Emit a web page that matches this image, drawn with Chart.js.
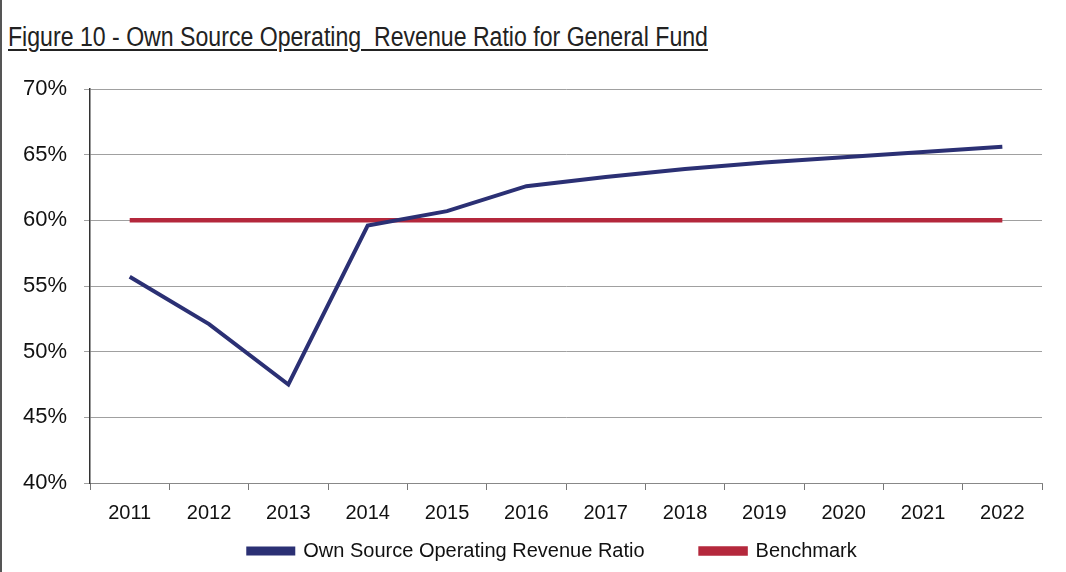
<!DOCTYPE html>
<html>
<head>
<meta charset="utf-8">
<script src="https://cdn.jsdelivr.net/npm/chart.js@4"></script>
<style>
  html, body { margin: 0; padding: 0; background: #fff; }
  #wrap { position: relative; width: 1066px; height: 572px; border-left: 2px solid #555; box-sizing: border-box; }
  #title {
    position: absolute; left: 6px; top: 22px;
    font-family: "Liberation Sans Narrow", "Arial Narrow", "Liberation Sans", Arial, sans-serif;
    font-size: 27px; color: #222; text-decoration: underline; text-underline-offset: 3px;
    white-space: nowrap; transform-origin: 0 0;
  }
  canvas { position: absolute; left: 0; top: 0; }
</style>
</head>
<body>
<div id="wrap">
  <div id="title">Figure 10 - Own Source Operating&nbsp; Revenue Ratio for General Fund</div>
  <canvas id="lineChart" width="1064" height="572"></canvas>
</div>
<script>
// values
const years = ['2011', '2012', '2013', '2014', '2015', '2016', '2017', '2018', '2019', '2020', '2021', '2022'];
const ownSourceRatio = [55.7, 52.1, 47.5, 59.6, 60.7, 62.6, 63.3, 63.9, 64.4, 64.8, 65.2, 65.6];
const benchmark = [60, 60, 60, 60, 60, 60, 60, 60, 60, 60, 60, 60];
const yTicks = [40, 45, 50, 55, 60, 65, 70];

const FONT = '"Liberation Sans Narrow", "Arial Narrow", "Liberation Sans", Arial, sans-serif';
const BLUE = '#2b3074';
const RED = '#b4283c';
const LEGEND_GAP = 56;

// legend items sit far apart in the original but close under the axis labels,
// so shrink the legend box, nudge the row right and lift it after layout
const legendLayout = {
    id: 'legendLayout',
    afterInit(chart) {
        const legend = chart.legend;
        const fit = legend.fit;
        legend.fit = function () {
            fit.call(this);
            this.height = 36;
            this.lineWidths[0] -= 57;
        };
    },
    afterLayout(chart) {
        // legend clips to its own box, so stretch the box down to the bottom
        const legend = chart.legend;
        legend.top = 551 - 10 - LEGEND_GAP;
        legend.bottom = chart.height;
        legend.height = legend.bottom - legend.top;
    }
};

window.onload = function () {
    // squeeze the title so it spans the same width as the scanned one
    const title = document.getElementById('title');
    title.style.transform = 'scaleX(' + (700 / title.offsetWidth) + ')';

    const ctx = document.getElementById('lineChart').getContext('2d');

    new Chart(ctx, {
        type: 'line',
        data: {
            labels: years,
            datasets: [{
                label: 'Own Source Operating Revenue Ratio',
                data: ownSourceRatio,
                borderColor: BLUE,
                backgroundColor: BLUE,
                borderWidth: 4,
                pointRadius: 0,
                tension: 0
            }, {
                label: 'Benchmark',
                data: benchmark,
                borderColor: RED,
                backgroundColor: RED,
                borderWidth: 4.5,
                pointRadius: 0,
                tension: 0
            }]
        },
        options: {
            responsive: false,
            animation: false,
            layout: { padding: { top: 89, left: 4, right: 24, bottom: 0 } },
            plugins: {
                legend: {
                    position: 'bottom',
                    labels: {
                        color: '#111',
                        font: { family: FONT, size: 20 },
                        boxWidth: 45,
                        boxHeight: 5,
                        padding: LEGEND_GAP
                    }
                },
                tooltip: { enabled: false }
            },
            scales: {
                x: {
                    offset: true,
                    grid: {
                        offset: true,
                        drawOnChartArea: false,
                        drawTicks: true,
                        tickLength: 7,
                        color: '#777'
                    },
                    border: { color: '#888', width: 1 },
                    ticks: {
                        color: '#111',
                        font: { family: FONT, size: 20 },
                        padding: 11,
                        maxRotation: 0
                    }
                },
                y: {
                    min: 40,
                    max: 70,
                    afterBuildTicks: function (axis) {
                        axis.ticks = yTicks.map(v => ({ value: v }));
                    },
                    grid: {
                        color: '#a0a0a0',
                        lineWidth: 1,
                        tickLength: 6
                    },
                    border: { color: '#333', width: 1.5 },
                    ticks: {
                        color: '#111',
                        font: { family: FONT, size: 22 },
                        padding: 17,
                        callback: v => v + '%'
                    }
                }
            }
        },
        plugins: [legendLayout]
    });
};
</script>
</body>
</html>
